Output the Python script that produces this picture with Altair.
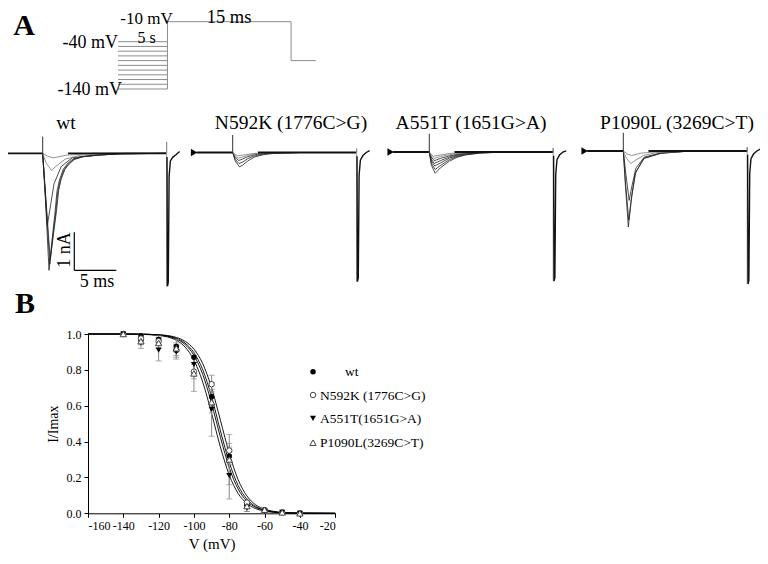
import altair as alt
import pandas as pd

FONT = "Liberation Serif"

# ---------------- Panel A : voltage protocol ----------------
PREPULSE_MV = [-40, -50, -60, -70, -80, -90, -100, -110, -120, -130, -140]
TEST_MV = -10
RETURN_MV = -80
PROTO_T = [-6, 0, 15, 18]  # schematic: prepulse (5 s, compressed), 15 ms test, return

# ---------------- Panel A : current traces (t in ms from test onset, I in nA) ----------------
PANEL_NAMES = ["wt", "N592K (1776C>G)", "A551T (1651G>A)", "P1090L (3269C>T)"]
PULSE_END = 14.75

WT_SWEEPS = [
    [(0, 0), (0.3, -1.1), (0.75, -3.08), (1.1, -2.3), (1.45, -1.6), (1.7, -1.0), (2.0, -0.7), (2.45, -0.42), (3.0, -0.26), (3.6, -0.15), (4.6, -0.09), (6.4, -0.05), (9, -0.015), (14.75, 0)],
    [(0, 0), (0.3, -1.0), (0.85, -2.92), (1.2, -2.2), (1.55, -1.55), (1.8, -1.0), (2.1, -0.7), (2.55, -0.43), (3.1, -0.27), (3.7, -0.16), (4.7, -0.09), (6.5, -0.05), (9, -0.015), (14.75, 0)],
    [(0, 0), (0.3, -0.95), (0.9, -2.8), (1.3, -2.1), (1.65, -1.5), (1.9, -0.98), (2.2, -0.68), (2.65, -0.42), (3.2, -0.27), (3.8, -0.16), (4.8, -0.09), (6.6, -0.05), (9, -0.015), (14.75, 0)],
    [(0, 0), (0.25, -0.9), (0.55, -1.9), (0.95, -1.35), (1.35, -0.8), (2.2, -0.35), (3.5, -0.12), (6.4, -0.04), (10, 0), (14.75, 0)],
    [(0, 0), (0.4, -0.25), (1.05, -0.45), (1.7, -0.32), (2.7, -0.15), (4.5, -0.05), (8, 0), (14.75, 0)],
    [(0, 0), (0.6, -0.08), (1.3, -0.12), (2.8, -0.05), (6, 0), (14.75, 0)],
]
N592K_SWEEPS = [
    [(0, 0), (0.3, -0.22), (0.8, -0.38), (1.2, -0.33), (1.8, -0.22), (2.6, -0.12), (3.6, -0.06), (5, -0.02), (8, 0), (14.75, 0)],
    [(0, 0), (0.3, -0.18), (0.75, -0.29), (1.2, -0.25), (1.8, -0.16), (2.6, -0.09), (3.6, -0.04), (5, -0.015), (8, 0), (14.75, 0)],
    [(0, 0), (0.3, -0.13), (0.7, -0.21), (1.2, -0.17), (1.8, -0.11), (2.6, -0.06), (3.6, -0.03), (5, -0.01), (8, 0), (14.75, 0)],
    [(0, 0), (0.3, -0.09), (0.65, -0.15), (1.2, -0.12), (1.8, -0.08), (2.6, -0.04), (4, -0.01), (8, 0), (14.75, 0)],
    [(0, 0), (0.3, -0.05), (0.6, -0.09), (1.2, -0.07), (2, -0.04), (3, -0.02), (5, 0), (14.75, 0)],
]
A551T_SWEEPS = [
    [(0, 0), (0.25, -0.35), (0.7, -0.56), (1.3, -0.42), (2.4, -0.24), (3.3, -0.14), (4.3, -0.08), (6, -0.03), (9, 0), (14.75, 0)],
    [(0, 0), (0.25, -0.3), (0.7, -0.46), (1.3, -0.36), (2.4, -0.2), (3.3, -0.12), (4.3, -0.07), (6, -0.025), (9, 0), (14.75, 0)],
    [(0, 0), (0.25, -0.24), (0.65, -0.37), (1.3, -0.29), (2.4, -0.16), (3.3, -0.1), (4.3, -0.05), (6, -0.02), (9, 0), (14.75, 0)],
    [(0, 0), (0.25, -0.19), (0.6, -0.30), (1.3, -0.23), (2.4, -0.13), (3.3, -0.08), (4.3, -0.04), (6, -0.015), (9, 0), (14.75, 0)],
    [(0, 0), (0.25, -0.14), (0.6, -0.23), (1.3, -0.17), (2.4, -0.1), (3.3, -0.06), (4.3, -0.03), (6, -0.01), (9, 0), (14.75, 0)],
    [(0, 0), (0.25, -0.1), (0.55, -0.17), (1.3, -0.12), (2.4, -0.07), (3.3, -0.04), (5, -0.01), (9, 0), (14.75, 0)],
    [(0, 0), (0.25, -0.06), (0.5, -0.11), (1.3, -0.08), (2.4, -0.04), (3.5, -0.02), (5, 0), (14.75, 0)],
]
P1090L_SWEEPS = [
    [(0, 0), (0.25, -0.9), (0.6, -2.0), (0.85, -1.5), (1.0, -1.2), (1.4, -0.6), (2.4, -0.2), (4.4, -0.06), (8, 0), (14.75, 0)],
    [(0, 0), (0.25, -0.8), (0.65, -1.82), (0.9, -1.35), (1.1, -1.05), (1.5, -0.55), (2.5, -0.19), (4.5, -0.06), (8, 0), (14.75, 0)],
    [(0, 0), (0.3, -0.6), (0.7, -1.3), (1.0, -0.95), (1.5, -0.45), (2.5, -0.16), (4.5, -0.05), (8, 0), (14.75, 0)],
    [(0, 0), (0.4, -0.2), (0.9, -0.33), (1.4, -0.25), (2.4, -0.12), (4, -0.04), (8, 0), (14.75, 0)],
    [(0, 0), (0.5, -0.08), (1.0, -0.12), (2, -0.06), (4, -0.02), (8, 0), (14.75, 0)],
]
# tail current at the end of the test pulse
WT_TAIL = [(14.8, -0.1), (14.85, -3.5), (14.95, -3.4), (15.05, -0.6), (15.2, -0.2), (15.5, -0.1), (15.9, -0.03), (16.3, 0.05)]
N592K_TAIL = [(14.8, -0.1), (14.85, -3.4), (14.95, -3.3), (15.05, -0.6), (15.2, -0.2), (15.5, -0.08), (15.9, 0.0), (16.3, 0.05)]
A551T_TAIL = [(14.8, -0.1), (14.85, -3.4), (14.95, -3.3), (15.05, -0.6), (15.2, -0.2), (15.5, -0.08), (15.9, 0.0), (16.3, 0.03)]
P1090L_TAIL = [(14.8, -0.1), (14.85, -3.5), (14.95, -3.4), (15.05, -0.6), (15.2, -0.2), (15.5, -0.08), (15.9, 0.0), (16.3, 0.05)]
STIM_ARTIFACT_NA = [0.44, 0.46, 0.48, 0.48]
END_ARTIFACT_NA = [0.3, 0.1, 0.1, 0.1]
SCALE_BAR_NA = 1
SCALE_BAR_MS = 5

# ---------------- Panel B : steady-state inactivation ----------------
V_MV = [-140, -130, -120, -110, -100, -90, -80, -70, -60, -50, -40]
GENOTYPES = ["wt", "N592K (1776C>G)", "A551T(1651G>A)", "P1090L(3269C>T)"]
WT_MEAN = [1.0, 0.99, 0.97, 0.93, 0.87, 0.65, 0.32, 0.05, 0.02, 0.005, 0.0]
WT_SEM = [0, 0.01, 0.02, 0.02, 0.03, 0.04, 0.05, 0.01, 0.005, 0, 0]
N592K_MEAN = [1.0, 0.975, 0.96, 0.91, 0.79, 0.72, 0.35, 0.06, 0.015, 0.005, 0.0]
N592K_SEM = [0, 0.02, 0.02, 0.03, 0.04, 0.05, 0.04, 0.02, 0.01, 0, 0]
A551T_MEAN = [1.0, 0.95, 0.91, 0.90, 0.83, 0.58, 0.21, 0.03, 0.01, 0.005, 0.0]
A551T_SEM = [0, 0.03, 0.06, 0.04, 0.05, 0.15, 0.13, 0.02, 0.01, 0, 0]
P1090L_MEAN = [1.0, 0.96, 0.95, 0.92, 0.78, 0.62, 0.30, 0.04, 0.02, 0.005, 0.0]
P1090L_SEM = [0, 0.02, 0.03, 0.05, 0.10, 0.06, 0.14, 0.03, 0.01, 0, 0]

FIT_V = [-160, -140, -130, -120, -110, -105, -100, -95, -90, -85, -80, -75, -70, -65, -60, -55, -50, -40, -20]
WT_FIT = [1.0, 1.0, 0.999, 0.995, 0.976, 0.949, 0.896, 0.80, 0.65, 0.46, 0.284, 0.156, 0.079, 0.038, 0.018, 0.008, 0.004, 0.001, 0.0]
N592K_FIT = [1.0, 1.0, 0.999, 0.996, 0.981, 0.959, 0.916, 0.834, 0.70, 0.519, 0.334, 0.188, 0.097, 0.047, 0.023, 0.011, 0.005, 0.001, 0.0]
A551T_FIT = [1.0, 1.0, 0.998, 0.992, 0.965, 0.927, 0.854, 0.731, 0.557, 0.369, 0.213, 0.111, 0.055, 0.026, 0.012, 0.006, 0.003, 0.0006, 0.0]
P1090L_FIT = [1.0, 1.0, 0.999, 0.994, 0.972, 0.941, 0.881, 0.774, 0.613, 0.424, 0.254, 0.136, 0.068, 0.033, 0.015, 0.007, 0.003, 0.001, 0.0]

X_TICKS = [-160, -140, -120, -100, -80, -60, -40, -20]
Y_TICKS = [0.0, 0.2, 0.4, 0.6, 0.8, 1.0]

# ---------------- layout (page pixels; chart origin is page (8, 8)) ----------------
O = 8
PX_MS = 8.4
PX_NA = 38
STIM_PX = [42.7, 232.7, 429.3, 623.3]
BASE_PX = [153.3, 152.5, 152.0, 151.0]
TITLE_PX = [66, 291, 471, 677]
W, H = 752, 548


def txt(s, x, y, size, weight="normal", align="center", angle=0, baseline="alphabetic"):
    kw = dict(align=align, baseline=baseline, fontSize=size, font=FONT,
              fontWeight=weight, color="black")
    if angle:
        kw["angle"] = angle
    return alt.Chart(pd.DataFrame({"k": [0]})).mark_text(**kw).encode(
        x=alt.value(x - O), y=alt.value(y - O), text=alt.value(s))


def no_axis_x(field, scale):
    return alt.X(field, type="quantitative", scale=scale, axis=None)


def no_axis_y(field, scale):
    return alt.Y(field, type="quantitative", scale=scale, axis=None)


# ---------- protocol ----------
segs = [(PROTO_T[0], PROTO_T[1], v, v) for v in PREPULSE_MV]
segs += [(PROTO_T[1], PROTO_T[1], min(PREPULSE_MV), TEST_MV),
         (PROTO_T[1], PROTO_T[2], TEST_MV, TEST_MV),
         (PROTO_T[2], PROTO_T[2], TEST_MV, RETURN_MV),
         (PROTO_T[2], PROTO_T[3], RETURN_MV, RETURN_MV)]
proto_df = pd.DataFrame(segs, columns=["t0", "t1", "v0", "v1"])
px_proto = alt.Scale(domain=[PROTO_T[0], PROTO_T[3]], range=[118 - O, 315.8 - O], nice=False, zero=False)
py_proto = alt.Scale(domain=[-140, -40, -10], range=[89 - O, 41.7 - O, 21.7 - O], nice=False, zero=False)
protocol = alt.Chart(proto_df).mark_rule(color="#8c8c8c", strokeWidth=1).encode(
    x=no_axis_x("t0", px_proto), x2="t1",
    y=no_axis_y("v0", py_proto), y2="v1")


# ---------- trace panels ----------
def trace_panel(i, sweeps, tail):
    xs = alt.Scale(domain=[-5, 17], range=[STIM_PX[i] - O - 5 * PX_MS, STIM_PX[i] - O + 17 * PX_MS],
                   nice=False, zero=False)
    ys = alt.Scale(domain=[-4, 1], range=[BASE_PX[i] - O + 4 * PX_NA, BASE_PX[i] - O - PX_NA],
                   nice=False, zero=False)
    rows = []
    n = len(sweeps)
    for k, sw in enumerate(sweeps):
        shade = "#222222" if k < n - 2 else "#777777"
        for t, a in sw:
            rows.append({"sweep": k, "t": t, "I": a, "shade": shade})
    sdf = pd.DataFrame(rows)
    lines = alt.Chart(sdf).mark_line(strokeWidth=0.8, interpolate="linear").encode(
        x=no_axis_x("t", xs), y=no_axis_y("I", ys), detail="sweep:N",
        color=alt.Color("shade:N", scale=None))
    base_df = pd.DataFrame({"t0": [-4.3, 3.0], "t1": [0, PULSE_END], "I": [0, 0]})
    baseline = alt.Chart(base_df).mark_rule(color="#111111", strokeWidth=1.8).encode(
        x=no_axis_x("t0", xs), x2="t1", y=no_axis_y("I", ys))
    art_df = pd.DataFrame({"t": [0, PULSE_END], "I0": [0, 0],
                           "I1": [STIM_ARTIFACT_NA[i], END_ARTIFACT_NA[i]]})
    art = alt.Chart(art_df).mark_rule(color="#333333", strokeWidth=1).encode(
        x=no_axis_x("t", xs), y=no_axis_y("I0", ys), y2="I1")
    end_df = pd.DataFrame({"t": [PULSE_END], "I0": [END_ARTIFACT_NA[i]], "I1": [min(a for _, a in tail)]})
    endline = alt.Chart(end_df).mark_rule(color="#999999", strokeWidth=1).encode(
        x=no_axis_x("t", xs), y=no_axis_y("I0", ys), y2="I1")
    tdf = pd.DataFrame(tail, columns=["t", "I"])
    tl = alt.Chart(tdf).mark_line(color="#111111", strokeWidth=1.4).encode(
        x=no_axis_x("t", xs), y=no_axis_y("I", ys))
    arrow = alt.Chart(pd.DataFrame({"t": [-4.6], "I": [0]})).mark_point(
        shape="triangle-right", filled=True, color="black", size=55, opacity=1).encode(
        x=no_axis_x("t", xs), y=no_axis_y("I", ys))
    layers = [lines, baseline, art, endline, tl, arrow]
    if i == 0:
        t0, i0 = 3.76, -3.08
        sb = pd.DataFrame({"t0": [t0, t0], "t1": [t0, t0 + SCALE_BAR_MS],
                           "I0": [i0, i0], "I1": [i0 + SCALE_BAR_NA, i0]})
        bar = alt.Chart(sb).mark_rule(color="black", strokeWidth=1.2).encode(
            x=no_axis_x("t0", xs), x2="t1", y=no_axis_y("I0", ys), y2="I1")
        layers.append(bar)
    return alt.layer(*layers)


panels = [trace_panel(0, WT_SWEEPS, WT_TAIL), trace_panel(1, N592K_SWEEPS, N592K_TAIL),
          trace_panel(2, A551T_SWEEPS, A551T_TAIL), trace_panel(3, P1090L_SWEEPS, P1090L_TAIL)]

# ---------- panel B ----------
means = [WT_MEAN, N592K_MEAN, A551T_MEAN, P1090L_MEAN]
sems = [WT_SEM, N592K_SEM, A551T_SEM, P1090L_SEM]
fits = [WT_FIT, N592K_FIT, A551T_FIT, P1090L_FIT]
brows = []
for g, m, s in zip(GENOTYPES, means, sems):
    for v, mm, ss in zip(V_MV, m, s):
        brows.append({"g": g, "V": v, "m": mm, "lo": mm - ss, "hi": mm + ss, "sem": ss})
bdf = pd.DataFrame(brows)
frows = []
for g, f in zip(GENOTYPES, fits):
    for v, val in zip(FIT_V, f):
        frows.append({"g": g, "V": v, "I": val})
fdf = pd.DataFrame(frows)

xB = alt.Scale(domain=[-160, -20], range=[88 - O, 335.2 - O], nice=False, zero=False)
yB = alt.Scale(domain=[0, 1], range=[513.3 - O, 334 - O], nice=False, zero=False)
x_axis = alt.Axis(values=X_TICKS, labelExpr="'' + datum.value", offset=(513.3 - O) - H,
                  title="V (mV)", titleFontSize=15, titleFontWeight="normal", titlePadding=5,
                  labelFontSize=12, tickSize=4, labelPadding=3, grid=False,
                  domainColor="black", tickColor="black", labelColor="black", titleColor="black",
                  labelFont=FONT, titleFont=FONT)
y_axis = alt.Axis(values=Y_TICKS, format=".1f", offset=-(88 - O),
                  title="I/Imax", titleFontSize=14, titleFontWeight="normal", titlePadding=6,
                  labelFontSize=12, tickSize=4, labelPadding=3, grid=False,
                  domainColor="black", tickColor="black", labelColor="black", titleColor="black",
                  labelFont=FONT, titleFont=FONT)

fit_lines = alt.Chart(fdf).mark_line(color="black", strokeWidth=0.9, interpolate="monotone").encode(
    x=alt.X("V:Q", scale=xB, axis=x_axis), y=alt.Y("I:Q", scale=yB, axis=y_axis), detail="g:N")
edf = bdf[bdf["sem"] > 0]
err = alt.Chart(edf).mark_rule(color="#8a8a8a", strokeWidth=1).encode(
    x="V:Q", y="lo:Q", y2="hi:Q")
cap_lo = alt.Chart(edf).mark_tick(color="#8a8a8a", orient="horizontal", size=6, thickness=1).encode(
    x="V:Q", y="lo:Q")
cap_hi = alt.Chart(edf).mark_tick(color="#8a8a8a", orient="horizontal", size=6, thickness=1).encode(
    x="V:Q", y="hi:Q")
MARKERS = [("circle", True, 30), ("circle", False, 30), ("triangle-down", True, 36), ("triangle-up", False, 40)]
pts = []
for g, (shape, filled, size) in zip(GENOTYPES, MARKERS):
    d = bdf[bdf["g"] == g]
    if filled:
        mk = alt.Chart(d).mark_point(shape=shape, filled=True, color="black", size=size, opacity=1)
    else:
        mk = alt.Chart(d).mark_point(shape=shape, filled=True, fill="white", stroke="#444444",
                                     strokeWidth=1, size=size, opacity=1)
    pts.append(mk.encode(x="V:Q", y="m:Q"))
panelB = alt.layer(fit_lines, err, cap_lo, cap_hi, *pts)

# legend
LEG_Y = [371.7, 395, 418.3, 442.7]
leg = []
for (shape, filled, size), y, g in zip(MARKERS, LEG_Y, GENOTYPES):
    d = pd.DataFrame({"k": [0]})
    if filled:
        mk = alt.Chart(d).mark_point(shape=shape, filled=True, color="black", size=size, opacity=1)
    else:
        mk = alt.Chart(d).mark_point(shape=shape, filled=True, fill="white", stroke="#444444",
                                     strokeWidth=1, size=size, opacity=1)
    leg.append(mk.encode(x=alt.value(313 - O), y=alt.value(y - O)))
    lx = 345 if g == "wt" else 320
    leg.append(txt(g, lx, y + 4.5, 13.5, align="left"))

texts = [
    txt("A", 24, 35, 30, weight="bold"),
    txt("B", 25, 313, 30, weight="bold"),
    txt("-10 mV", 146.5, 24, 17),
    txt("15 ms", 229, 23, 18.5),
    txt("-40 mV", 118, 48, 18, align="right"),
    txt("5 s", 146.5, 43, 16),
    txt("-140 mV", 122, 95, 18, align="right"),
    txt("1 nA", 70, 250, 18, angle=270),
    txt("5 ms", 97, 287, 18),
]
for name, cx in zip(PANEL_NAMES, TITLE_PX):
    texts.append(txt(name, cx, 129, 19.5))

chart = alt.layer(protocol, *panels, panelB, *leg, *texts).resolve_scale(
    x="independent", y="independent").properties(
    width=W, height=H, autosize=alt.AutoSizeParams(type="none"), padding=0,
    background="white").configure_view(stroke=None)

chart.save("out.html", embed_options={"renderer": "svg", "actions": False})
